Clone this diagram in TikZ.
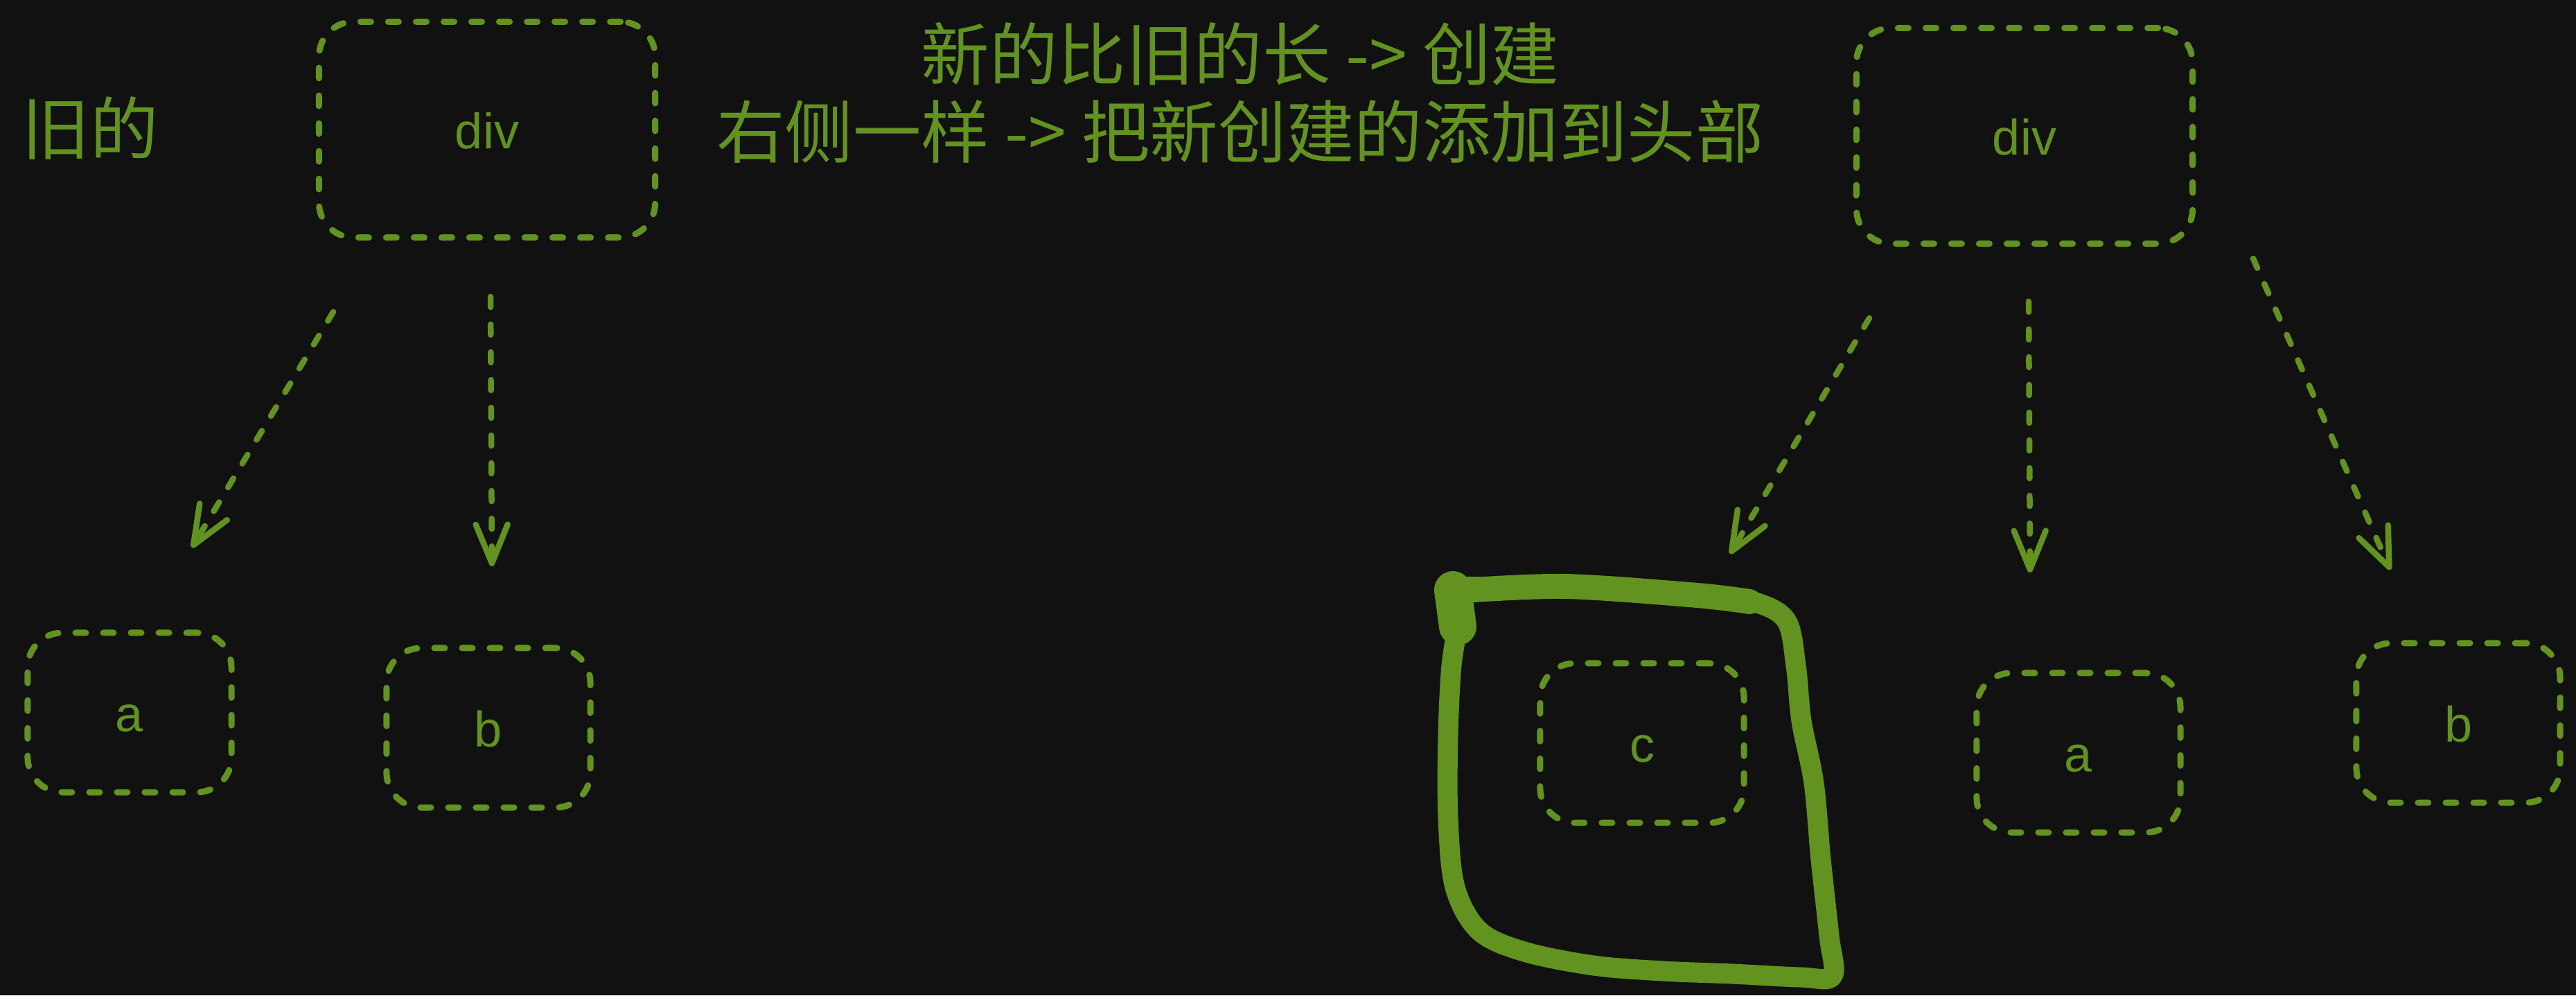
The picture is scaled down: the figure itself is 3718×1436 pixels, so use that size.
\documentclass[tikz,border=0pt]{standalone}
\usepackage{fontspec}
\setmainfont{Liberation Sans}
\newfontfamily\cjk{Noto Sans CJK SC}
\usetikzlibrary{arrows.meta}
\definecolor{vdbg}{HTML}{111111}
\definecolor{vdgreen}{HTML}{62931F}
\tikzset{
  vnode/.style={rectangle, rounded corners=0.5cm, draw=vdgreen, line width=0.9mm,
    dash pattern=on 1.5mm off 2.5mm, line cap=round, text=vdgreen, inner sep=0pt,
    text height=5.4mm, text depth=0pt, font=\fontsize{20.5}{24}\selectfont},
  parent/.style={vnode, minimum width=4.85cm, minimum height=3.11cm},
  child/.style={vnode, minimum width=2.94cm, minimum height=2.3cm},
  note/.style={text=vdgreen, align=center, font=\cjk\fontsize{28}{32}\selectfont},
  varr/.style={-{Straight Barb[length=5.6mm, width=4.6mm, round]}, draw=vdgreen,
    line width=0.85mm, dash pattern=on 1.5mm off 2.5mm, line cap=round},
  hilite/.style={draw=vdgreen, line width=2.9mm, line cap=round, line join=round},
}

\begin{document}
\begin{tikzpicture}[x=0.01cm, y=-0.01cm]
    \path[use as bounding box, fill=vdbg] (0,0) rectangle (3718,1436);

    \node[note] (oldtag) at (130,185) {旧的};
    \node[note] (rule) at (1790,134) {新的比旧的长 -> 创建\\右侧一样 -> 把新创建的添加到头部};

    \node[parent] (olddiv) at (703,187) {div};
    \node[child] (olda) at (187,1028) {a};
    \node[child] (oldb) at (705,1050) {b};
    \coordinate (olda-s) at (481,450);
    \coordinate (olda-e) at (277,790);
    \coordinate (oldb-s) at (708,428);
    \coordinate (oldb-e) at (710,817);
    \draw[varr] (olda-s) -- (olda-e);
    \draw[varr] (oldb-s) -- (oldb-e);

    \node[parent] (newdiv) at (2922,196) {div};
    \node[child] (newc) at (2370,1072) {c};
    \node[child] (newa) at (3000,1086) {a};
    \node[child] (newb) at (3548,1043) {b};
    \coordinate (newc-s) at (2698,459);
    \coordinate (newc-e) at (2497,799);
    \coordinate (newa-s) at (2928,435);
    \coordinate (newa-e) at (2930,826);
    \coordinate (newb-s) at (3252,373);
    \coordinate (newb-e) at (3450,822);
    \draw[varr] (newc-s) -- (newc-e);
    \draw[varr] (newa-s) -- (newa-e);
    \draw[varr] (newb-s) -- (newb-e);

    \draw[hilite] plot[smooth, tension=0.55] coordinates {(2108,915) (2090,852) (2180,848)
      (2260,845) (2350,849) (2450,858) (2530,868) (2578,895) (2592,960) (2600,1040)
      (2618,1130) (2628,1240) (2640,1350) (2645,1408) (2600,1410) (2500,1405) (2400,1401)
      (2300,1393) (2200,1373) (2135,1343) (2100,1280) (2090,1180) (2090,1060) (2095,960) (2105,900)};
    \draw[hilite, line width=3.6mm] plot[smooth] coordinates {(2110,852) (2260,846) (2450,859) (2525,868)};
    \draw[hilite, line width=5.4mm] (2097,851) -- (2104,904);
  \end{tikzpicture}
\end{document}
